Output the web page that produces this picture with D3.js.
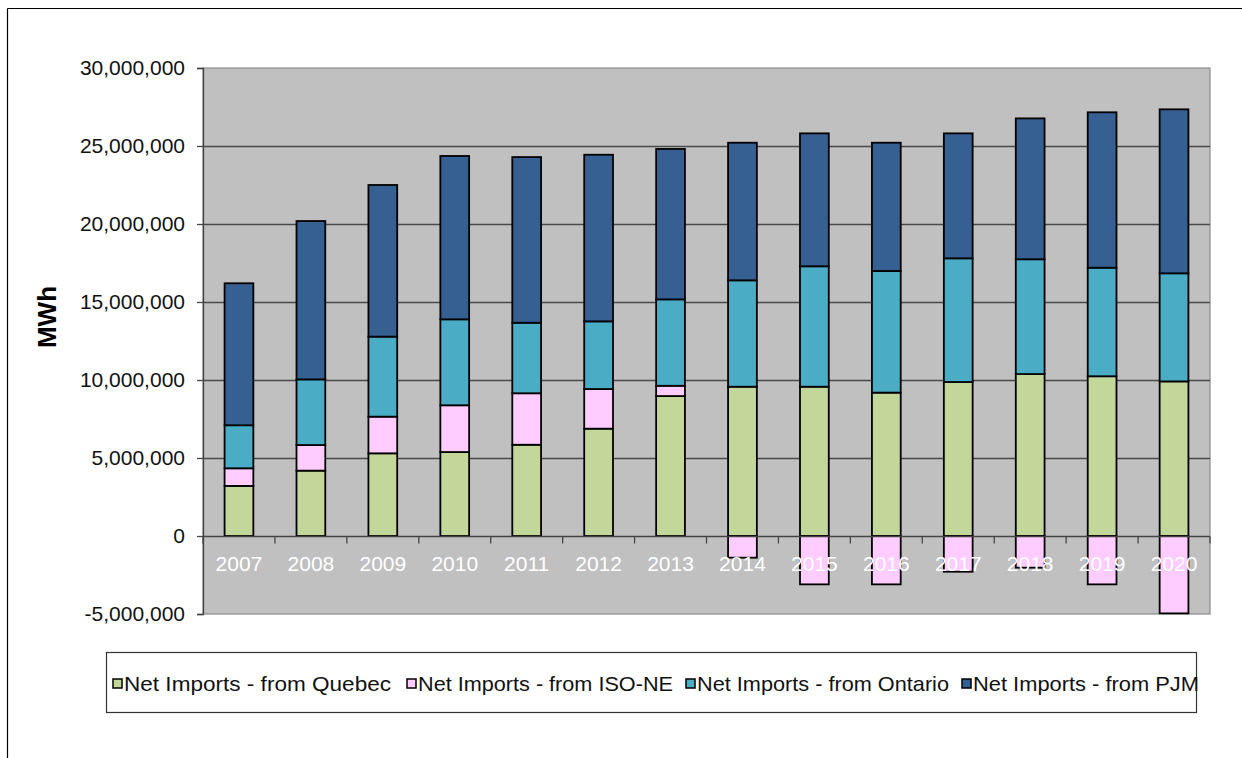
<!DOCTYPE html>
<html>
<head>
<meta charset="utf-8">
<script src="https://cdn.jsdelivr.net/npm/d3@7"></script>
<style>
  html, body { margin: 0; padding: 0; background: #fff; }
  svg { display: block; font-family: Arial, "Liberation Sans", sans-serif; }
</style>
</head>
<body>
<svg id="chart" width="1242" height="758"></svg>
<script>
const years = ["2007","2008","2009","2010","2011","2012","2013","2014","2015","2016","2017","2018","2019","2020"];
const quebec  = [3210000, 4190000, 5300000, 5380000, 5850000, 6880000, 8970000, 9570000, 9570000, 9190000, 9870000, 10380000, 10240000, 9910000];
const isone   = [1130000, 1640000, 2350000, 3000000, 3300000, 2540000, 660000, -1390000, -3100000, -3100000, -2290000, -2030000, -3100000, -4960000];
const ontario = [2760000, 4210000, 5130000, 5510000, 4520000, 4340000, 5540000, 6820000, 7720000, 7800000, 7930000, 7360000, 6960000, 6930000];
const pjm     = [9100000, 10150000, 9720000, 10470000, 10620000, 10680000, 9640000, 8820000, 8520000, 8220000, 8010000, 9030000, 9960000, 10510000];
const seriesNames = ["Net Imports - from Quebec", "Net Imports - from ISO-NE", "Net Imports - from Ontario", "Net Imports - from PJM"];
const seriesKeys = ["quebec", "isone", "ontario", "pjm"];
const colors = ["#C4D79B", "#FFCCFF", "#4BACC6", "#366092"];
const yTicks = [-5000000, 0, 5000000, 10000000, 15000000, 20000000, 25000000, 30000000];

const rows = years.map((y, i) => ({year: y, quebec: quebec[i], isone: isone[i], ontario: ontario[i], pjm: pjm[i]}));

const svg = d3.select("#chart");
const plot = {left: 203, right: 1210, top: 68, bottom: 614};

// outer frame
svg.append("line").attr("x1", 7.5).attr("x2", 1242).attr("y1", 8.5).attr("y2", 8.5).attr("stroke", "#000").attr("stroke-width", 1.2);
svg.append("line").attr("x1", 7.5).attr("x2", 7.5).attr("y1", 8.5).attr("y2", 758).attr("stroke", "#000").attr("stroke-width", 1.2);

const x = d3.scaleBand().domain(years).range([plot.left, plot.right]).paddingInner(0.6).paddingOuter(0.3);
const y = d3.scaleLinear().domain([-5000000, 30000000]).range([plot.bottom, plot.top]);

// plot background
svg.append("rect").attr("x", plot.left).attr("y", plot.top)
  .attr("width", plot.right - plot.left).attr("height", plot.bottom - plot.top)
  .attr("fill", "#C0C0C0").attr("stroke", "#8a8a8a").attr("stroke-width", 1.2);

// gridlines
svg.append("g").selectAll("line").data(yTicks.filter(d => d !== 0 && d !== -5000000 && d !== 30000000)).join("line")
  .attr("x1", plot.left).attr("x2", plot.right)
  .attr("y1", d => Math.round(y(d)) + 0.5).attr("y2", d => Math.round(y(d)) + 0.5)
  .attr("stroke", "#4a4a4a").attr("stroke-width", 1.3);

// stacked bars
const stack = d3.stack().keys(seriesKeys).offset(d3.stackOffsetDiverging);
const stacked = stack(rows);
svg.append("g").selectAll("g").data(stacked).join("g")
  .attr("fill", (d, i) => colors[i])
  .selectAll("rect").data(d => d).join("rect")
  .attr("x", d => x(d.data.year))
  .attr("width", x.bandwidth())
  .attr("y", d => y(Math.max(d[0], d[1])))
  .attr("height", d => Math.abs(y(d[0]) - y(d[1])))
  .attr("stroke", "#000").attr("stroke-width", 1.8);

// y axis
const yAxis = d3.axisLeft(y).tickValues(yTicks).tickSize(6).tickPadding(12)
  .tickFormat(d => d3.format(",")(d).replace("\u2212", "-"));
const gy = svg.append("g").attr("transform", `translate(${plot.left},0)`).call(yAxis);
gy.select(".domain").attr("stroke", "#444").attr("stroke-width", 1.3);
gy.selectAll(".tick line").attr("stroke", "#444").attr("stroke-width", 1.3);
gy.selectAll(".tick text").attr("font-size", 21).attr("fill", "#111").attr("font-family", "Arial, 'Liberation Sans', sans-serif");

// zero axis with category boundary ticks
const y0 = Math.round(y(0)) + 0.5;
svg.append("line").attr("x1", plot.left).attr("x2", plot.right).attr("y1", y0).attr("y2", y0)
  .attr("stroke", "#444").attr("stroke-width", 1.3);
const step = x.step();
svg.append("g").selectAll("line").data(d3.range(years.length + 1)).join("line")
  .attr("x1", i => plot.left + i * step).attr("x2", i => plot.left + i * step)
  .attr("y1", y0).attr("y2", y0 + 7)
  .attr("stroke", "#444").attr("stroke-width", 1.3);

// year labels (white)
svg.append("g").selectAll("text").data(years).join("text")
  .attr("x", d => x(d) + x.bandwidth() / 2)
  .attr("y", y0 + 34)
  .attr("text-anchor", "middle")
  .attr("font-size", 21)
  .attr("fill", "#fff")
  .text(d => d);

// y title
svg.append("text")
  .attr("transform", "translate(56,317) rotate(-90)")
  .attr("text-anchor", "middle")
  .attr("font-size", 26).attr("font-weight", "bold").attr("fill", "#000")
  .text("MWh");

// legend
const legend = svg.append("g");
legend.append("rect").attr("x", 106.5).attr("y", 652.5).attr("width", 1090).attr("height", 60)
  .attr("fill", "#fff").attr("stroke", "#333").attr("stroke-width", 1.2);
const legendX = [113, 407, 686, 962];
const items = legend.selectAll("g.item").data(seriesNames).join("g").attr("class", "item")
  .attr("transform", (d, i) => `translate(${legendX[i]},684)`);
items.append("rect").attr("x", 0).attr("y", -5).attr("width", 9).attr("height", 9)
  .attr("fill", (d, i) => colors[i]).attr("stroke", "#000").attr("stroke-width", 1.5);
items.append("text").attr("x", 11).attr("y", 7).attr("font-size", 21).attr("fill", "#111")
  .attr("textLength", (d, i) => [267, 255, 252, 226][i]).attr("lengthAdjust", "spacingAndGlyphs")
  .text(d => d);
</script>
</body>
</html>
